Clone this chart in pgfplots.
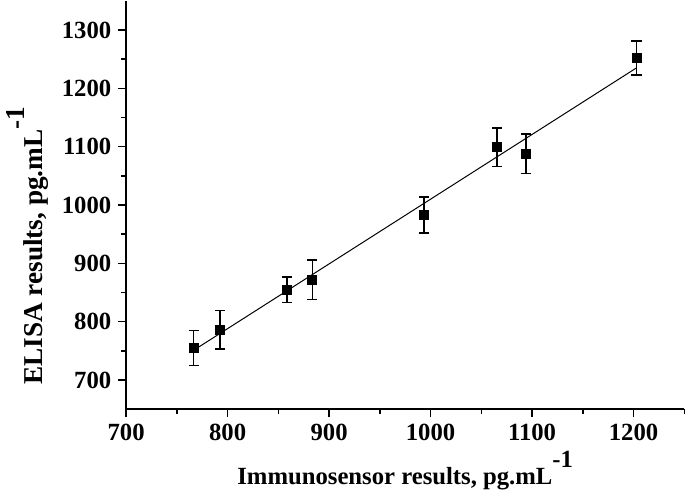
\documentclass[border=0pt]{standalone}
\usepackage{fontspec}
\setmainfont{Liberation Serif}
\usepackage{pgfplots}
\pgfplotsset{compat=1.18}
\begin{document}
\begin{tikzpicture}
\begin{axis}[
  width=281.5bp, height=206bp, scale only axis,
  xmin=700, xmax=1250, ymin=650, ymax=1350,
  axis lines=left, axis line style={-, line width=0.75bp},
  xtick={700,800,...,1200}, ytick={700,800,...,1300},
  minor xtick={750,850,...,1250}, minor ytick={750,850,...,1250},
  tick align=outside, major tick length=4bp, minor tick length=2.5bp,
  tick style={line width=0.75bp, black},
  ticklabel style={font=\fontsize{12.5}{15}\selectfont\bfseries},
  /pgf/number format/assume math mode=true,
  /pgf/number format/1000 sep={},
  xlabel={Immunosensor results, pg.mL\raisebox{0.7em}{-1}},
  ylabel={ELISA results, pg.mL\raisebox{0.65em}{-1}},
  xlabel style={yshift=1.5bp, font=\fontsize{12.5}{15}\selectfont\bfseries},
  ylabel style={at={(ticklabel cs:0.40)}, font=\fontsize{13.8}{16}\selectfont\bfseries},
  clip=false,
]
\addplot[black, line width=0.5bp] coordinates {(766.6,751) (1203,1235)};
\addplot[only marks, mark=square*, black, mark size=2.3bp,
  error bars/.cd, y dir=both, y explicit,
  error mark options={rotate=90, mark size=2.6bp, line width=0.75bp, black},
  error bar style={line width=0.75bp, black}]
  table[x=x, y=y, y error=e] {
x y e
766.6 754.7 30
792.7 786 33
858.7 854.4 22
883.4 871.5 34
993.7 982.6 31
1065.5 1098.8 33
1094.1 1087.5 34
1203 1251.6 29
};
\end{axis}
\end{tikzpicture}
\end{document}
